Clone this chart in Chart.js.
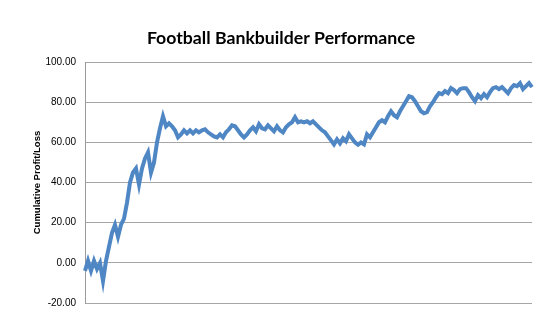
<!DOCTYPE html>
<html>
<head>
<meta charset="utf-8">
<script src="https://cdn.jsdelivr.net/npm/chart.js@4"></script>
<style>
  html, body { margin: 0; padding: 0; background: #fff; }
  #wrap { width: 557px; height: 324px; }
</style>
</head>
<body>
<div id="wrap"><canvas id="perfChart"></canvas></div>
<script>
/* ── FOOTBALL BANKBUILDER PERFORMANCE ── */

// data
const chartTitle = "Football Bankbuilder Performance";
const yTitle = "Cumulative Profit/Loss";
const yMin = -20, yMax = 100, yStep = 20;

const profit = [
    -4, 1, -4, 1, -3, 0, -9, 1, 8, 15,
    19, 13, 19, 22, 30, 40, 45, 47, 39, 47,
    52, 55, 45, 50, 60, 67, 73, 68, 69.5, 68,
    66, 62.5, 64, 66, 64.5, 66, 64.5, 66, 65, 66,
    66.5, 65, 64, 63, 62.5, 64, 62.5, 65, 66.5, 68.5,
    68, 66, 64, 62.5, 64, 66, 67.5, 65.5, 69, 67,
    66.5, 68.5, 67, 65.5, 68, 66, 65, 67.5, 69, 70,
    72.5, 70, 70.5, 70, 70.5, 69.5, 70.5, 69, 67.5, 66,
    65, 63, 61, 59, 61.5, 59.5, 62, 60.5, 64, 62,
    60, 58.8, 60, 59, 64, 62.5, 65, 67.5, 70, 71,
    70, 73, 75.5, 73.5, 72.5, 75.5, 78, 80.5, 83, 82.5,
    80.5, 78, 75.5, 74.5, 75, 78, 80, 82.5, 84.5, 84,
    85.5, 84.5, 87, 86, 84.5, 86.5, 87, 87, 85, 82.5,
    80.5, 83.5, 82, 84, 82.5, 85, 87, 87.5, 86.5, 87.5,
    86, 84.5, 87, 88.5, 88, 89.5, 86.5, 88, 89.5, 87.5
];
const bets = profit.map((_, i) => String(i + 1));

const ctx = document.getElementById("perfChart").getContext("2d");

const perfChart = new Chart(ctx, {
    type: "line",
    data: {
        labels: bets,
        datasets: [
            {
                label: "Profit/Loss",
                data: profit,
                borderColor: "#4f86c4",
                borderWidth: 4,
                pointRadius: 0,
                tension: 0,
                fill: false,
            },
        ],
    },
    options: {
        responsive: true,
        maintainAspectRatio: false,
        animation: false,
        layout: { padding: { left: 30, right: 25, top: 0, bottom: 21 } },
        scales: {
            x: { display: false },
            y: {
                min: yMin,
                max: yMax,
                afterFit: (s) => { s.width = 55; },
                border: { color: "#9a9a9a", width: 1 },
                grid: { color: "#a6a6a6", lineWidth: 1, drawTicks: false },
                ticks: {
                    stepSize: yStep,
                    padding: 9,
                    color: "#000",
                    font: { family: "Liberation Sans", size: 10 },
                    callback: (v) => v.toFixed(2),
                },
                title: {
                    display: true,
                    text: yTitle,
                    color: "#000",
                    font: { family: "Liberation Sans", size: 9.5, weight: "bold" },
                    padding: { top: 2, bottom: 0 },
                },
            },
        },
        plugins: {
            legend: { display: false },
            tooltip: { enabled: false },
            title: {
                display: true,
                text: chartTitle,
                color: "#000",
                font: { family: "Lato", size: 17.7, weight: "bold" },
                padding: { top: 27.5, bottom: 13.3 },
            },
        },
    },
});
</script>
</body>
</html>
